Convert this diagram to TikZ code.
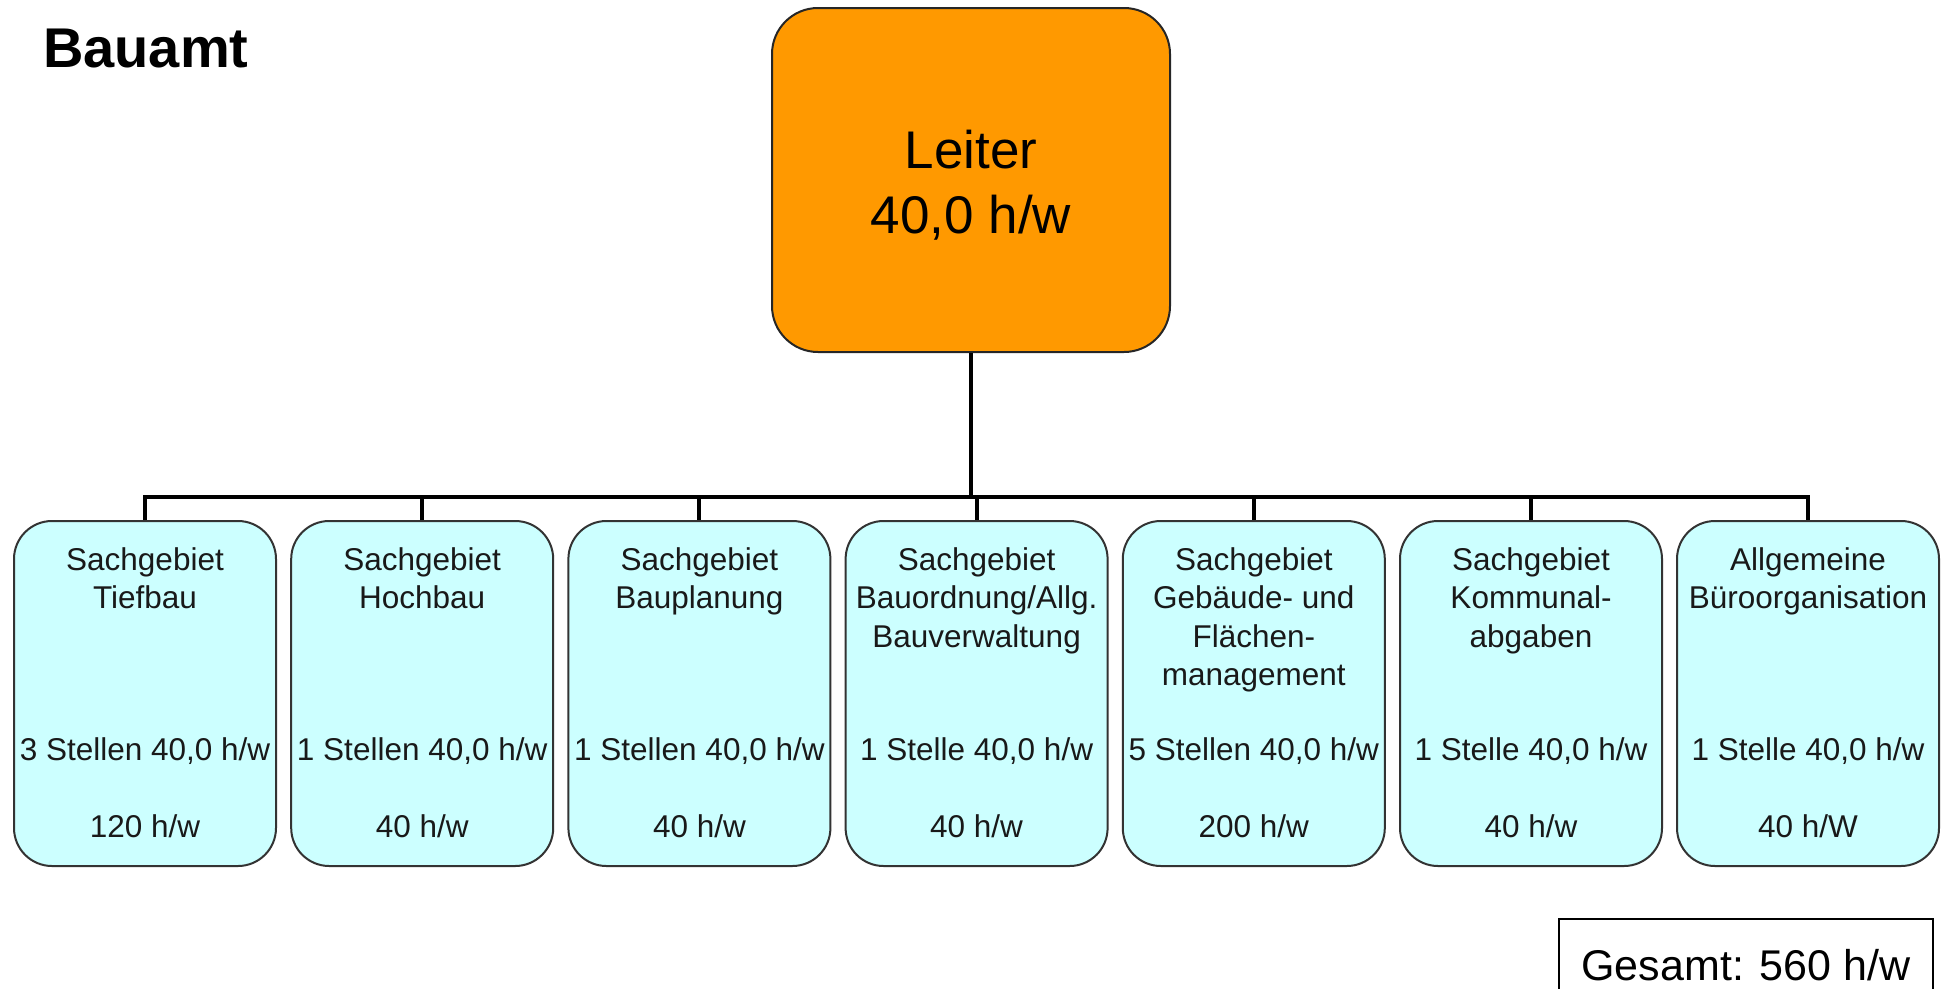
\documentclass[tikz,border=0pt]{standalone}
\usepackage{fontspec}
\setmainfont{Liberation Sans}
\definecolor{cyanlight}{HTML}{CCFFFF}
\definecolor{leadorange}{HTML}{FF9900}
\begin{document}
\begin{tikzpicture}[x=1pt,y=-1pt,
  unitbox/.style={draw=black!80, line width=2pt, fill=cyanlight, rounded corners=38pt,
    minimum width=262pt, minimum height=345pt, inner sep=0pt},
  leadbox/.style={draw=black!85, line width=2pt, fill=leadorange, rounded corners=46pt,
    minimum width=398pt, minimum height=344pt, inner sep=0pt},
  conn/.style={line width=4pt, black},
  small/.style={font=\fontsize{31.5}{38}\selectfont, anchor=base, inner sep=0pt, text=black!90},
  big/.style={font=\fontsize{53}{60}\selectfont, anchor=base, inner sep=0pt},
]
\useasboundingbox (0,0) rectangle (1942,988);
\clip (0,0) rectangle (1942,988);

% title
\node[anchor=base west, inner sep=0pt, font=\fontsize{56}{60}\selectfont\bfseries] (title) at (43,67) {Bauamt};

% head
\node[leadbox] (leiter) at (971,180) {};
\node[big] (l1) at (971,168) {Leiter};
\node[big] (l2) at (971,233) {40,0 h/w};

% unit boxes
\node[unitbox] (b1) at (145,693.5) {};
\node[unitbox] (b2) at (422.2,693.5) {};
\node[unitbox] (b3) at (699.4,693.5) {};
\node[unitbox] (b4) at (976.6,693.5) {};
\node[unitbox] (b5) at (1253.8,693.5) {};
\node[unitbox] (b6) at (1531,693.5) {};
\node[unitbox] (b7) at (1808,693.5) {};

% junction coordinates on the bar
\coordinate (j1) at (145,497);
\coordinate (j7) at (1808,497);

% connectors
\draw[conn] (leiter.south) -- (leiter.south |- j1);
\draw[conn, line join=miter] (b1.north) -- (j1) -- (j7) -- (b7.north);
\foreach \b in {b2,b3,b4,b5,b6}{
  \draw[conn] (\b.north) -- (\b.north |- j1);
}

% texts box 1
\node[small] (t1a) at (145,570) {Sachgebiet};
\node[small] (t1b) at (145,608.5) {Tiefbau};
\node[small] (t1c) at (145,760) {3 Stellen 40,0 h/w};
\node[small] (t1d) at (145,837) {120 h/w};
% box 2
\node[small] (t2a) at (422.2,570) {Sachgebiet};
\node[small] (t2b) at (422.2,608.5) {Hochbau};
\node[small] (t2c) at (422.2,760) {1 Stellen 40,0 h/w};
\node[small] (t2d) at (422.2,837) {40 h/w};
% box 3
\node[small] (t3a) at (699.4,570) {Sachgebiet};
\node[small] (t3b) at (699.4,608.5) {Bauplanung};
\node[small] (t3c) at (699.4,760) {1 Stellen 40,0 h/w};
\node[small] (t3d) at (699.4,837) {40 h/w};
% box 4
\node[small] (t4a) at (976.6,570) {Sachgebiet};
\node[small] (t4b) at (976.6,608.5) {Bauordnung/Allg.};
\node[small] (t4e) at (976.6,647) {Bauverwaltung};
\node[small] (t4c) at (976.6,760) {1 Stelle 40,0 h/w};
\node[small] (t4d) at (976.6,837) {40 h/w};
% box 5
\node[small] (t5a) at (1253.8,570) {Sachgebiet};
\node[small] (t5b) at (1253.8,608.5) {Gebäude- und};
\node[small] (t5e) at (1253.8,647) {Flächen-};
\node[small] (t5f) at (1253.8,685.5) {management};
\node[small] (t5c) at (1253.8,760) {5 Stellen 40,0 h/w};
\node[small] (t5d) at (1253.8,837) {200 h/w};
% box 6
\node[small] (t6a) at (1531,570) {Sachgebiet};
\node[small] (t6b) at (1531,608.5) {Kommunal-};
\node[small] (t6e) at (1531,647) {abgaben};
\node[small] (t6c) at (1531,760) {1 Stelle 40,0 h/w};
\node[small] (t6d) at (1531,837) {40 h/w};
% box 7
\node[small] (t7a) at (1808,570) {Allgemeine};
\node[small] (t7b) at (1808,608.5) {Büroorganisation};
\node[small] (t7c) at (1808,760) {1 Stelle 40,0 h/w};
\node[small] (t7d) at (1808,837) {40 h/W};

% total
\draw[line width=2pt, black] (1559,919) rectangle (1933,1000);
\node[anchor=base, inner sep=0pt, font=\fontsize{43}{48}\selectfont] (total) at (1746,980) {Gesamt: 560 h/w};
\end{tikzpicture}
\end{document}
